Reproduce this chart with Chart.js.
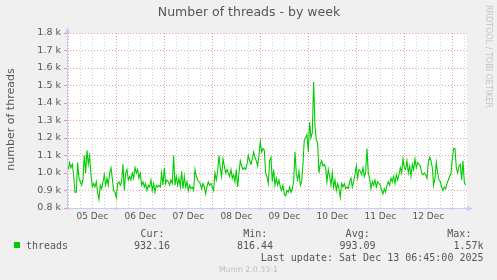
<!DOCTYPE html>
<html>
<head>
<meta charset="utf-8">
<script src="https://cdn.jsdelivr.net/npm/chart.js@4"></script>
<style>
  body { margin: 0; background: #f0f0f0; }
  #wrap { width: 497px; height: 280px; }
</style>
</head>
<body>
<div id="wrap"><canvas id="threads-chart" width="497" height="280"></canvas></div>
<script>
// Munin "threads" weekly graph (one sample per 40 min)
const dayLabels = ['05 Dec', '06 Dec', '07 Dec', '08 Dec', '09 Dec', '10 Dec', '11 Dec', '12 Dec'];

// 05 Dec 00:00 -> 09 Dec ~0:00
const threadsWeek1 = [
  1020, 1060, 1030, 1050, 990, 890, 890, 1060, 970, 950,
  930, 960, 1100, 1000, 1130, 1050, 1100, 990, 920, 940,
  920, 950, 890, 850, 930, 910, 950, 990, 930, 970,
  930, 1000, 1030, 970, 900, 890, 860, 940, 950, 930,
  950, 1050, 900, 1000, 1020, 960, 980, 960, 1000, 970,
  1030, 1000, 1020, 970, 1000, 930, 950, 920, 940, 900,
  930, 920, 960, 900, 940, 890, 930, 920, 930, 920,
  1000, 930, 1030, 940, 960, 950, 930, 960, 940, 1100,
  930, 980, 930, 970, 920, 1010, 910, 980, 920, 950,
  900, 930, 910, 920, 900, 1020, 980, 960, 950, 940,
  910, 940, 920, 880, 920, 950, 930, 940, 920, 900,
  1000, 960, 1010, 1100, 1030, 980, 1080, 1040, 1000, 1020,
  1000, 980, 1020, 970, 990, 950, 1020, 920, 1000, 1070,
  1040, 1020, 1030, 1020, 1050, 1100
];

// 09 Dec -> 13 Dec 06:45
const threadsWeek2 = [
  1070, 1050, 1080, 1120, 1090, 1070, 1040, 1100, 1180, 1120,
  1140, 1130, 1000, 980, 940, 1070, 1090, 950, 1020, 930,
  970, 930, 960, 920, 900, 930, 880, 870, 900, 890,
  920, 890, 910, 950, 1120, 1000, 960, 1010, 930, 950,
  1050, 1190, 1200, 1220, 1120, 1290, 1200, 1230, 1520, 1270,
  1190, 1170, 1000, 1050, 1070, 1040, 1050, 1030, 950, 1020,
  980, 930, 1000, 920, 960, 900, 940, 910, 860, 940,
  920, 940, 910, 920, 910, 950, 970, 920, 950, 990,
  1040, 970, 1020, 1010, 990, 1030, 980, 1000, 1140, 1000,
  970, 910, 950, 930, 960, 920, 950, 940, 930, 900,
  880, 910, 890, 930, 950, 930, 970, 950, 980, 940,
  990, 960, 990, 1030, 1000, 1080, 1030, 1020, 1070, 1000,
  1040, 980, 1050, 1020, 1080, 1030, 1060, 1050, 1040, 1000,
  990, 1000, 990, 970, 1060, 1090, 1070, 1030, 930, 970,
  1060, 1000, 960, 950, 920, 900, 920, 910, 940, 960,
  980, 1000, 1080, 1140, 1140, 1030, 1000, 1040, 1050, 960,
  1070, 950, 930
];

const statLabels = ['Cur:', 'Min:', 'Avg:', 'Max:'];
const statValues = ['932.16', '816.44', '993.09', '1.57k'];

const threads = threadsWeek1.concat(threadsWeek2);
const sampleHours = 40 / 60;   // hours since 05 Dec 00:00
const points = threads.map((v, i) => ({ x: i * sampleHours, y: v }));

const RED = 'rgba(230, 60, 60, 0.5)';
const GRAY = 'rgba(140, 140, 140, 0.4)';
const AXIS = '#c8cdf8';
const FONT = '#555555';

const mungePlugin = {
  id: 'munin',
  beforeDraw(chart) {
    const { ctx, chartArea: a } = chart;
    ctx.save();
    ctx.fillStyle = '#ffffff';
    ctx.fillRect(a.left, a.top, a.right - a.left, a.bottom - a.top);
    ctx.restore();
  },
  afterDraw(chart) {
    const { ctx, chartArea: a } = chart;
    ctx.save();
    // axes with arrows
    ctx.strokeStyle = AXIS;
    ctx.fillStyle = AXIS;
    ctx.lineWidth = 1;
    ctx.beginPath();
    ctx.moveTo(a.left + 0.5, a.bottom);
    ctx.lineTo(a.left + 0.5, a.top - 1);
    ctx.moveTo(a.left, a.bottom + 0.5);
    ctx.lineTo(a.right + 1, a.bottom + 0.5);
    ctx.stroke();
    ctx.beginPath();
    ctx.moveTo(a.left + 0.5, a.top - 6);
    ctx.lineTo(a.left - 2, a.top);
    ctx.lineTo(a.left + 3, a.top);
    ctx.fill();
    ctx.beginPath();
    ctx.moveTo(a.right + 6, a.bottom + 0.5);
    ctx.lineTo(a.right, a.bottom - 2);
    ctx.lineTo(a.right, a.bottom + 3);
    ctx.fill();

    // title
    ctx.fillStyle = FONT;
    ctx.textAlign = 'center';
    ctx.textBaseline = 'middle';
    ctx.font = '12.5px "DejaVu Sans"';
    ctx.fillText('Number of threads - by week', 249, 13);

    // y axis title
    ctx.save();
    ctx.translate(11, 119.5);
    ctx.rotate(-Math.PI / 2);
    ctx.font = '11px "DejaVu Sans"';
    ctx.fillText('number of threads', 0, 0);
    ctx.restore();

    // watermark
    ctx.save();
    ctx.translate(488.5, 56.5);
    ctx.rotate(Math.PI / 2);
    ctx.fillStyle = '#c4c4c4';
    ctx.font = '8px "DejaVu Sans"';
    ctx.fillText('RRDTOOL / TOBI OETIKER', 0, 0);
    ctx.restore();

    // legend
    ctx.fillStyle = '#00cc00';
    ctx.fillRect(14, 242, 6, 6);
    ctx.fillStyle = FONT;
    ctx.font = '10px "DejaVu Sans Mono"';
    ctx.textAlign = 'left';
    ctx.fillText('threads', 26, 246);
    ctx.textAlign = 'right';
    const labelRight = [164.6, 267.3, 369.7, 471.4];
    const valueRight = [170, 273, 375.5, 483.5];
    statLabels.forEach((s, i) => ctx.fillText(s, labelRight[i], 234));
    statValues.forEach((s, i) => ctx.fillText(s, valueRight[i], 246));
    ctx.fillText('Last update: Sat Dec 13 06:45:00 2025', 483.5, 258);

    ctx.textAlign = 'center';
    ctx.fillStyle = '#bdbdbd';
    ctx.font = '7.8px "DejaVu Sans"';
    ctx.fillText('Munin 2.0.33-1', 248.5, 269.5);
    ctx.restore();
  }
};

const ctx = document.getElementById('threads-chart').getContext('2d');
new Chart(ctx, {
  type: 'line',
  data: {
    datasets: [{
      label: 'threads',
      data: points,
      borderColor: '#00cc00',
      borderWidth: 1.1,
      pointRadius: 0,
      tension: 0,
      fill: false
    }]
  },
  options: {
    responsive: false,
    animation: false,
    layout: { padding: { top: 33, right: 30, bottom: 52, left: 0 } },
    plugins: {
      legend: { display: false },
      title: { display: false },
      tooltip: { enabled: false }
    },
    scales: {
      x: {
        type: 'linear',
        min: -0.65,
        max: 199.35,
        afterFit(scale) { scale.height = 20; },
        afterBuildTicks(scale) {
          const t = [];
          for (let h = 0; h <= 198; h += 6) t.push({ value: h });
          scale.ticks = t;
        },
        border: { display: false, dash: [1, 2] },
        grid: {
          color: c => (c.tick && c.tick.value % 24 === 0) ? RED : GRAY,
          tickColor: c => (c.tick && c.tick.value % 24 === 0) ? RED : 'rgba(0,0,0,0)',
          tickLength: 2,
          lineWidth: 1
        },
        ticks: {
          autoSkip: false,
          maxRotation: 0,
          padding: 1,
          color: FONT,
          font: { family: 'DejaVu Sans', size: 9 },
          callback: v => (v % 24 === 12) ? dayLabels[Math.floor(v / 24)] : ''
        }
      },
      y: {
        min: 800,
        max: 1800,
        afterFit(scale) { scale.width = 67; },
        border: { display: false, dash: [1, 2] },
        grid: {
          color: RED,
          tickColor: RED,
          tickLength: 3,
          lineWidth: 1
        },
        ticks: {
          stepSize: 100,
          padding: 3,
          color: FONT,
          font: { family: 'DejaVu Sans', size: 9.5 },
          callback: v => (v / 1000).toFixed(1) + ' k'
        }
      }
    }
  },
  plugins: [mungePlugin]
});
</script>
</body>
</html>
